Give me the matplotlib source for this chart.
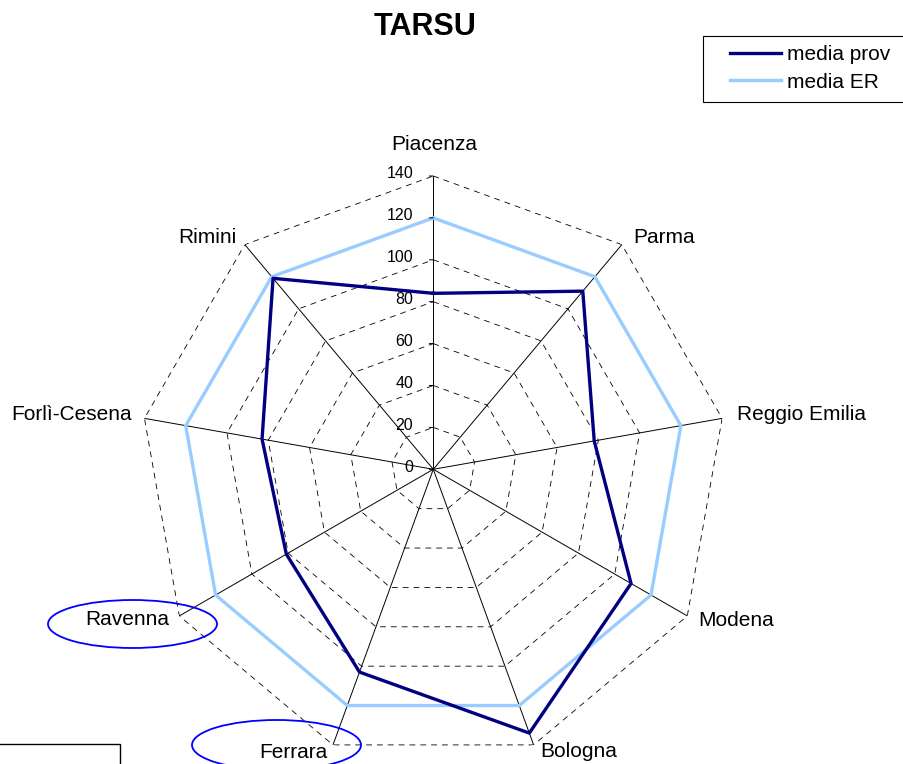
import numpy as np
import matplotlib
matplotlib.use("Agg")
import matplotlib.pyplot as plt
from matplotlib.patches import Ellipse, Rectangle

plt.rcParams['font.family'] = ['Liberation Sans', 'DejaVu Sans']

categories = ["Piacenza", "Parma", "Reggio Emilia", "Modena", "Bologna",
              "Ferrara", "Ravenna", "Forlì-Cesena", "Rimini"]
media_prov = [84, 111, 78, 109, 134, 103, 81, 83, 119]
media_er = [120, 120, 120, 120, 120, 120, 120, 120, 120]
tick_values = [0, 20, 40, 60, 80, 100, 120, 140]
title = "TARSU"

W, H = 904, 764
fig = plt.figure(figsize=(W / 100, H / 100), dpi=100)
cx, cy, R = 433.3, 469.3, 293.3
ax = fig.add_axes([(cx - R) / W, (H - cy - R) / H, 2 * R / W, 2 * R / H],
                  projection='polar')
ax.set_theta_zero_location('N')
ax.set_theta_direction(-1)
ax.set_ylim(0, 140)
ax.grid(False)
ax.spines['polar'].set_visible(False)
ax.set_xticks([])
ax.set_yticks([])
ax.patch.set_alpha(0)

n = len(categories)
angles = np.arange(n) * 2 * np.pi / n
closed = np.concatenate([angles, angles[:1]])

# dashed polygon grid
for r in tick_values[1:]:
    ax.plot(closed, [r] * (n + 1), color='black', lw=0.6,
            ls=(0, (7, 6)), zorder=1)
# spokes
for a in angles:
    ax.plot([a, a], [0, tick_values[-1]], color='black', lw=0.7, zorder=1)

# series
ax.plot(closed, media_er + media_er[:1], color='#99CCFF', lw=2.4,
        label='media ER', zorder=3)
ax.plot(closed, media_prov + media_prov[:1], color='#000080', lw=2.4,
        label='media prov', zorder=4)

# value ticks on Piacenza axis
for v in tick_values:
    ax.annotate('', xy=(0, v), xytext=(-4, 0), textcoords='offset pixels',
                arrowprops=dict(arrowstyle='-', lw=0.7, color='black',
                                shrinkA=0, shrinkB=0))
    ax.annotate(str(v), xy=(0, v), xytext=(-20, 2), textcoords='offset pixels',
                ha='right', va='center', fontsize=11.5)

# category labels
offsets = [(1, 31, 'center'), (11, 7, 'left'), (15, 4, 'left'),
           (11, -5, 'left'), (7, -7, 'left'), (-5, -8, 'right'),
           (-10, -4, 'right'), (-13, 4, 'right'), (-8, 7, 'right')]
for a, lab, (dx, dy, ha) in zip(angles, categories, offsets):
    ax.annotate(lab, xy=(a, tick_values[-1]), xytext=(dx, dy),
                textcoords='offset pixels', ha=ha, va='center', fontsize=15)

fig.text(425.5 / W, 1 - 27 / H, title, ha='center', va='center',
         fontsize=22, fontweight='bold')

# legend
h, l = ax.get_legend_handles_labels()
leg = fig.legend(h[::-1], l[::-1], loc='upper left',
                 bbox_to_anchor=(730 / W, 1 - 45 / H), fontsize=15,
                 frameon=False, handlelength=2.45, handletextpad=0.28,
                 borderpad=0, labelspacing=0.42, borderaxespad=0)
fig.add_artist(Rectangle((703 / W, 1 - 102 / H), 201 / W, 66 / H,
                         transform=fig.transFigure, fill=False,
                         edgecolor='black', lw=0.8))

# annotations: ellipses and box
fig.add_artist(Ellipse((132.5 / W, 1 - 624 / H), 169 / W, 48 / H,
                       transform=fig.transFigure, fill=False,
                       edgecolor='#0000FF', lw=1.3))
fig.add_artist(Ellipse((276.5 / W, 1 - 745 / H), 169 / W, 50 / H,
                       transform=fig.transFigure, fill=False,
                       edgecolor='#0000FF', lw=1.3))
fig.add_artist(Rectangle((-0.01, -0.05), 120 / W + 0.01, 0.05 + 20 / H,
                         transform=fig.transFigure, fill=False,
                         edgecolor='black', lw=1.0))

fig.savefig('out.png', dpi=100)
